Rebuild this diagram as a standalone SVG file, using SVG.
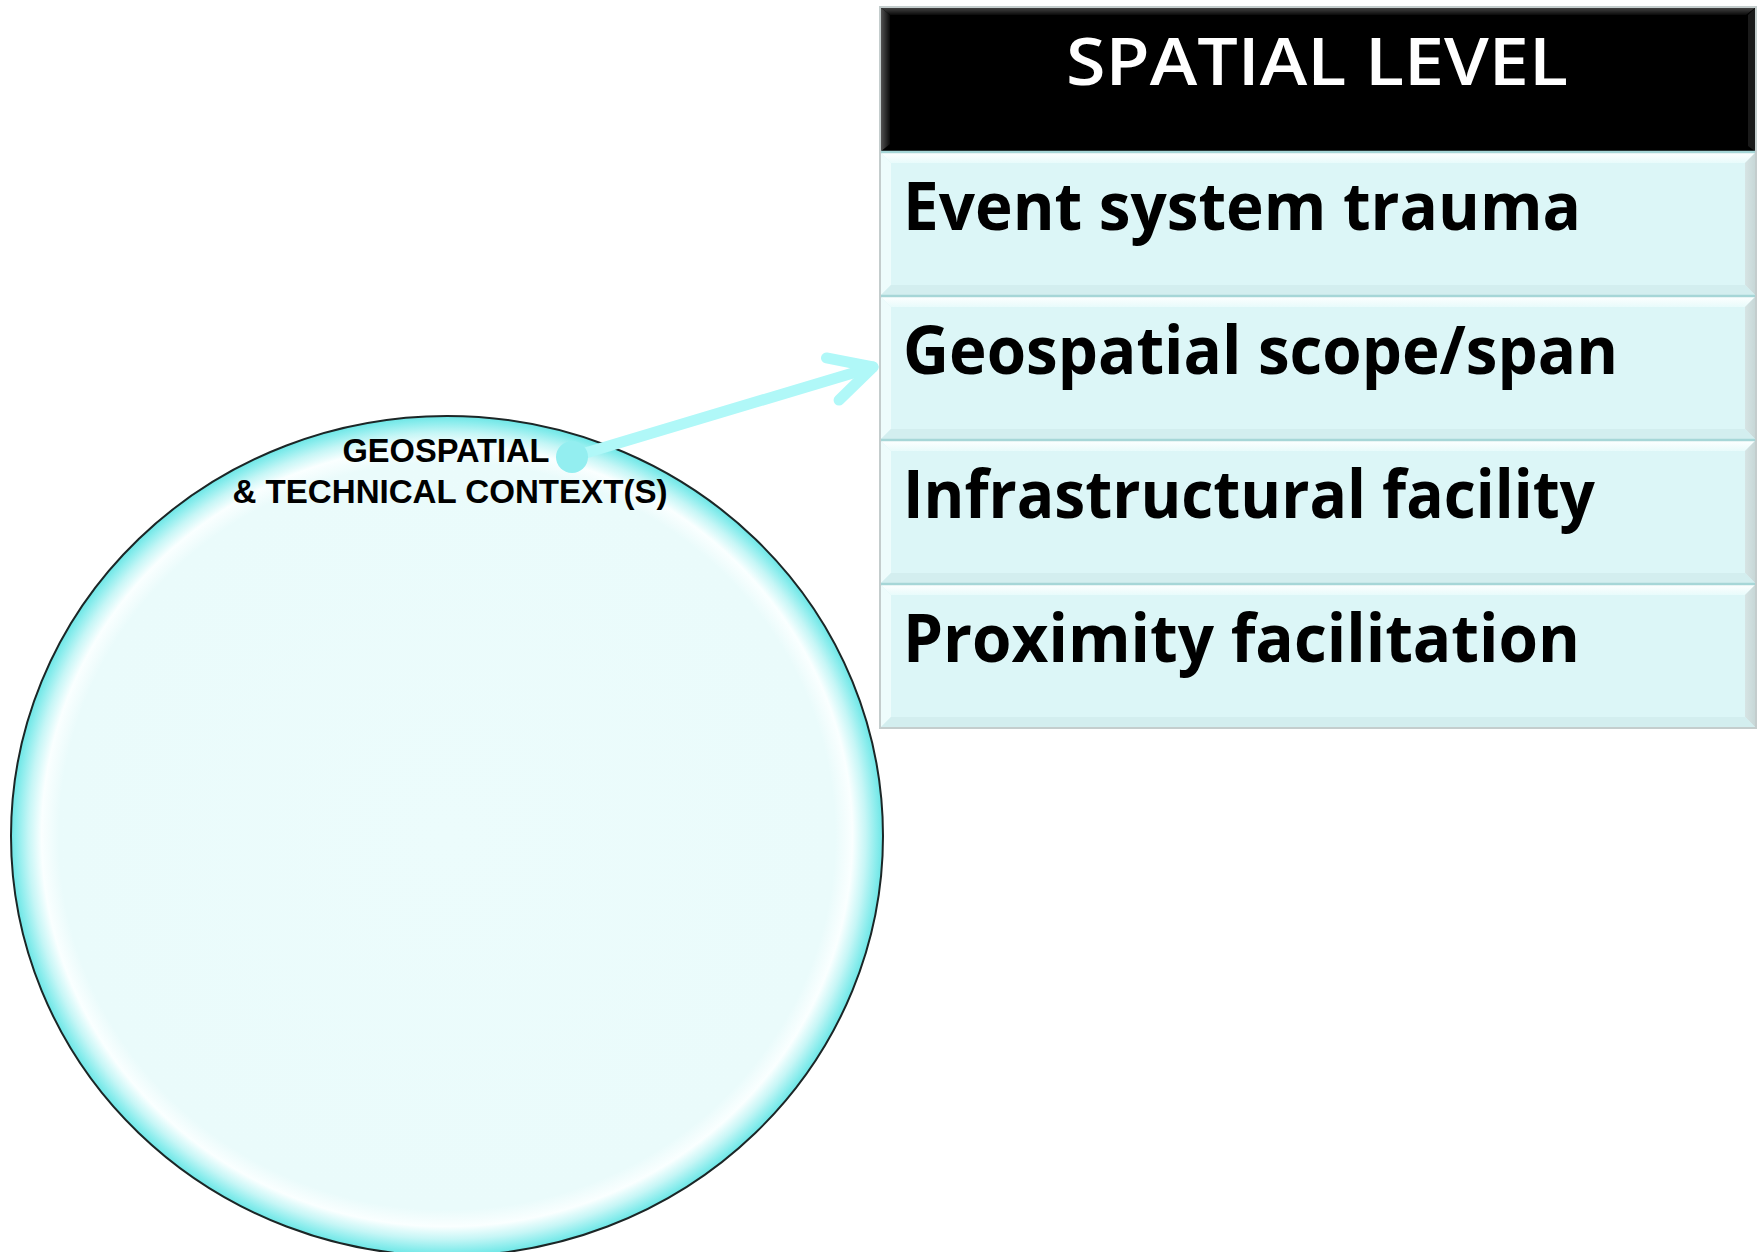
<svg xmlns="http://www.w3.org/2000/svg" xmlns:xlink="http://www.w3.org/1999/xlink" width="1763" height="1252" viewBox="0 0 1763 1252">
  <style>
    .label { font-family: "Liberation Sans", Arial, sans-serif; font-weight: 700; fill: #000000; }
    .row-text { font-family: "Open Sans", "Liberation Sans", sans-serif; font-weight: 700; font-size: 66px; fill: #000000; }
    .title { font-family: "Open Sans", "Liberation Sans", sans-serif; font-weight: 600; font-size: 66px; fill: #ffffff; }
    .connector { fill: none; stroke: #B0F8F8; stroke-width: 11; stroke-linecap: round; stroke-linejoin: round; }
  </style>
  <defs>
    <!-- bevelled bubble fill -->
    <radialGradient id="bubbleFill" cx="0.5" cy="0.5" r="0.5">
      <stop offset="0" stop-color="#ECFCFC"/>
      <stop offset="0.89" stop-color="#EAFBFB"/>
      <stop offset="0.93" stop-color="#FAFFFF"/>
      <stop offset="0.96" stop-color="#C6F6F6"/>
      <stop offset="0.985" stop-color="#8CEDED"/>
      <stop offset="1" stop-color="#6CE6E6"/>
    </radialGradient>
    <linearGradient id="hdrTop" x1="0" y1="0" x2="0" y2="1">
      <stop offset="0" stop-color="#4a4a4a"/>
      <stop offset="1" stop-color="#0a0a0a"/>
    </linearGradient>
    <linearGradient id="hdrLeft" x1="0" y1="0" x2="1" y2="0">
      <stop offset="0" stop-color="#5a5a5a"/>
      <stop offset="1" stop-color="#0a0a0a"/>
    </linearGradient>
    <linearGradient id="rowTop" x1="0" y1="0" x2="0" y2="1">
      <stop offset="0" stop-color="#FFFFFF"/>
      <stop offset="1" stop-color="#E8FBFB"/>
    </linearGradient>
    <linearGradient id="rowRight" x1="0" y1="0" x2="1" y2="0">
      <stop offset="0" stop-color="#D6E4E4"/>
      <stop offset="1" stop-color="#C6D6D6"/>
    </linearGradient>
    <!-- one bevelled table row, 876 x 144 -->
    <g id="rowFace">
      <rect x="0" y="0" width="876" height="144" fill="#DCF6F7"/>
      <polygon points="0,0 876,0 865,11 11,11" fill="url(#rowTop)"/>
      <polygon points="0,0 11,11 11,133 0,144" fill="#EEFCFC"/>
      <polygon points="876,0 876,144 865,133 865,11" fill="url(#rowRight)"/>
      <polygon points="0,144 11,133 865,133 876,144" fill="#D3EEEF"/>
      <line x1="0" y1="0" x2="876" y2="0" stroke="#A6D6D7" stroke-width="2.5"/>
    </g>
    <marker id="openHead" markerUnits="userSpaceOnUse" markerWidth="80" markerHeight="80" viewBox="-60 -40 80 80" refX="0" refY="0" orient="auto" overflow="visible">
      <path d="M-42,-22 L0,0 L-42,22" fill="none" stroke="#B0F8F8" stroke-width="11" stroke-linecap="round" stroke-linejoin="round"/>
    </marker>
  </defs>

  <rect x="0" y="0" width="1763" height="1252" fill="#ffffff"/>

  <!-- context bubble -->
  <g id="context-bubble">
    <ellipse cx="447" cy="836" rx="436" ry="420" fill="url(#bubbleFill)" stroke="#1c2626" stroke-width="2"/>
    <text class="label" font-size="33" x="446" y="462" text-anchor="middle" textLength="207" lengthAdjust="spacingAndGlyphs">GEOSPATIAL</text>
    <text class="label" font-size="33" x="450" y="503" text-anchor="middle" textLength="435" lengthAdjust="spacingAndGlyphs">&amp; TECHNICAL CONTEXT(S)</text>
  </g>

  <!-- spatial level table -->
  <g id="spatial-level-table">
    <g id="header">
      <rect x="880" y="7" width="876" height="145" fill="#000000"/>
      <polygon points="880,7 1756,7 1746,15 890,15" fill="url(#hdrTop)"/>
      <polygon points="880,7 890,15 890,144 880,152" fill="url(#hdrLeft)"/>
      <polygon points="1756,7 1756,152 1748,146 1748,15" fill="#1a1a1a"/>
      <text class="title" x="1317" y="85" text-anchor="middle" textLength="502" lengthAdjust="spacingAndGlyphs">SPATIAL LEVEL</text>
    </g>
    <g id="row-event">
      <use xlink:href="#rowFace" href="#rowFace" x="880" y="152"/>
      <text class="row-text" x="903" y="230" textLength="678" lengthAdjust="spacingAndGlyphs">Event system trauma</text>
    </g>
    <g id="row-geospatial">
      <use xlink:href="#rowFace" href="#rowFace" x="880" y="296"/>
      <text class="row-text" x="903" y="374" textLength="715" lengthAdjust="spacingAndGlyphs">Geospatial scope/span</text>
    </g>
    <g id="row-infrastructural">
      <use xlink:href="#rowFace" href="#rowFace" x="880" y="440"/>
      <text class="row-text" x="903" y="518" textLength="692" lengthAdjust="spacingAndGlyphs">Infrastructural facility</text>
    </g>
    <g id="row-proximity">
      <use xlink:href="#rowFace" href="#rowFace" x="880" y="584"/>
      <text class="row-text" x="903" y="662" textLength="677" lengthAdjust="spacingAndGlyphs">Proximity facilitation</text>
    </g>
    <rect x="880" y="7" width="876" height="721" fill="none" stroke="#C4CDCD" stroke-width="2"/>
  </g>

  <!-- connector from the bubble label to the table -->
  <g id="connectors">
    <path class="connector" d="M572,457 L873,367" marker-end="url(#openHead)"/>
    <circle cx="572" cy="457" r="16" fill="#93EEF0"/>
  </g>
</svg>
